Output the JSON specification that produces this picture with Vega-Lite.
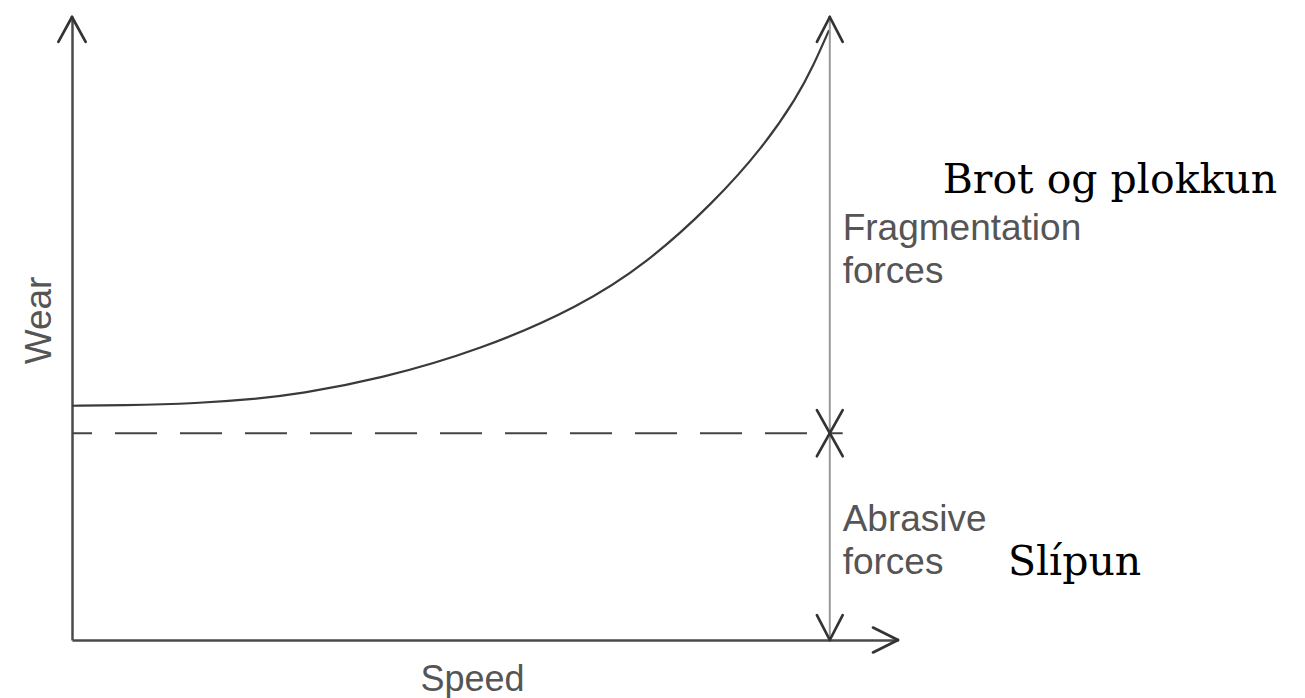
{
  "$schema": "https://vega.github.io/schema/vega-lite/v6.json",
  "width": 826,
  "height": 623,
  "padding": {"left": 72, "top": 17, "right": 407, "bottom": 58},
  "autosize": {"type": "none"},
  "background": "white",
  "config": {"view": {"stroke": null}},
  "datasets": {
    "curve": [
      {"x": 0, "y": 3.76}, {"x": 0.63, "y": 3.765}, {"x": 1.69, "y": 3.8}, {"x": 2.35, "y": 3.86},
      {"x": 3.01, "y": 3.95}, {"x": 4.06, "y": 4.19}, {"x": 5.38, "y": 4.65}, {"x": 6.7, "y": 5.35},
      {"x": 7.59, "y": 6.05}, {"x": 8.46, "y": 7.01}, {"x": 9.12, "y": 7.91}, {"x": 9.57, "y": 8.72},
      {"x": 9.78, "y": 9.21}, {"x": 9.99, "y": 9.79}
    ],
    "heads": [
      {"x": -0.18, "y": 9.6, "x2": 0, "y2": 10},
      {"x": 0.18, "y": 9.6, "x2": 0, "y2": 10},
      {"x": 10.57, "y": 0.2, "x2": 10.9, "y2": 0},
      {"x": 10.57, "y": -0.2, "x2": 10.9, "y2": 0},
      {"x": 9.83, "y": 9.6, "x2": 10, "y2": 10},
      {"x": 10.17, "y": 9.6, "x2": 10, "y2": 10},
      {"x": 9.83, "y": 3.69, "x2": 10, "y2": 3.32},
      {"x": 10.17, "y": 3.69, "x2": 10, "y2": 3.32},
      {"x": 9.83, "y": 2.95, "x2": 10, "y2": 3.32},
      {"x": 10.17, "y": 2.95, "x2": 10, "y2": 3.32},
      {"x": 9.83, "y": 0.4, "x2": 10, "y2": 0},
      {"x": 10.17, "y": 0.4, "x2": 10, "y2": 0}
    ],
    "labels": [
      {"x": 10.17, "y": 6.42, "text": "Fragmentation\nforces"},
      {"x": 10.17, "y": 1.75, "text": "Abrasive\nforces"}
    ],
    "notes": [
      {"x": 11.49, "y": 7.17, "text": "Brot og plokkun"},
      {"x": 12.35, "y": 1.04, "text": "Slípun"}
    ]
  },
  "encoding": {
    "x": {
      "field": "x", "type": "quantitative",
      "scale": {"domain": [0, 10.9], "nice": false, "zero": false},
      "axis": {
        "title": "Speed", "labels": false, "ticks": false, "grid": false,
        "domainColor": "#4a4a4a", "domainWidth": 2.5,
        "titleFont": "Liberation Sans", "titleFontSize": 36, "titleFontWeight": "normal",
        "titleColor": "#555555", "titleX": 400, "titleY": 50,
        "titleBaseline": "alphabetic", "titleAlign": "center"
      }
    },
    "y": {
      "field": "y", "type": "quantitative",
      "scale": {"domain": [0, 10], "nice": false, "zero": false},
      "axis": {
        "title": "Wear", "labels": false, "ticks": false, "grid": false,
        "domainColor": "#4a4a4a", "domainWidth": 2.5,
        "titleFont": "Liberation Sans", "titleFontSize": 37, "titleFontWeight": "normal",
        "titleColor": "#555555", "titleX": -22, "titleY": 303, "titleAngle": -90,
        "titleBaseline": "alphabetic", "titleAlign": "center"
      }
    }
  },
  "layer": [
    {
      "data": {"name": "curve"},
      "mark": {"type": "line", "interpolate": "basis", "stroke": "#3a3a3a", "strokeWidth": 2.2}
    },
    {
      "data": {"values": [{"x": 0, "x2": 10.17, "y": 3.32}]},
      "mark": {"type": "rule", "stroke": "#444444", "strokeWidth": 2, "strokeDash": [42, 23], "strokeDashOffset": 22},
      "encoding": {"x2": {"field": "x2"}}
    },
    {
      "data": {"values": [{"x": 10, "y": 0, "y2": 10}]},
      "mark": {"type": "rule", "stroke": "#999999", "strokeWidth": 2},
      "encoding": {"y2": {"field": "y2"}}
    },
    {
      "data": {"name": "heads"},
      "mark": {"type": "rule", "stroke": "#333333", "strokeWidth": 2.7, "strokeCap": "round"},
      "encoding": {"x2": {"field": "x2"}, "y2": {"field": "y2"}}
    },
    {
      "data": {"name": "labels"},
      "mark": {"type": "text", "font": "Liberation Sans", "fontSize": 37, "color": "#555555", "align": "left", "baseline": "alphabetic", "lineBreak": "\n", "lineHeight": 43},
      "encoding": {"text": {"field": "text"}}
    },
    {
      "data": {"name": "notes"},
      "mark": {"type": "text", "font": "DejaVu Serif", "fontSize": 41, "color": "#000000", "align": "left", "baseline": "alphabetic"},
      "encoding": {"text": {"field": "text"}}
    }
  ]
}
